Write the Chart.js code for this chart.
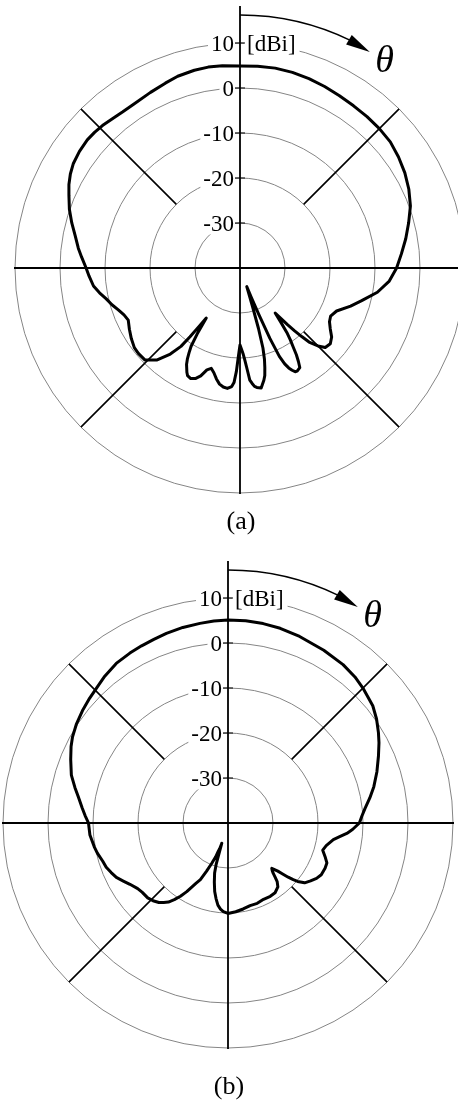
<!DOCTYPE html>
<html>
<head>
<meta charset="utf-8">
<script src="https://cdn.jsdelivr.net/npm/chart.js@4.4.0/dist/chart.umd.min.js"></script>
<style>
  html, body { margin: 0; padding: 0; background: #fff; overflow: hidden; }
  body { width: 458px; height: 1113px; position: relative; }
  canvas { position: absolute; left: 0; }
  #grafA { top: 0; }
  #grafB { top: 555px; }
  .legenda {
    position: absolute;
    font-family: "Liberation Serif", "Times New Roman", serif;
    font-size: 26px;
    line-height: 1;
    transform: translateX(-50%);
  }
</style>
</head>
<body>
<canvas id="grafA" width="480" height="555"></canvas>
<canvas id="grafB" width="480" height="555"></canvas>
<div class="legenda" style="left:241px; top:508px">(a)</div>
<div class="legenda" style="left:229px; top:1073px">(b)</div>
<script>
// diagrama (a): ângulo θ (graus, sentido horário a partir do topo) e ganho em dBi
const anguloA = [0, 5, 10, 15, 20, 25, 30, 35, 40, 45,
  50, 55, 60, 65, 70, 75, 80, 85, 90, 95,
  100, 105, 109, 114, 118, 121, 124, 127, 130, 133,
  135, 137, 138, 139, 140, 141, 142, 143, 144, 145,
  146, 147, 148, 149, 151, 152, 153, 154, 155, 156,
  157, 158, 159, 160, 161, 162, 163, 164, 165, 166,
  167, 168, 170, 172, 173, 174, 175, 176, 177, 178,
  179, 180, 181, 182, 183, 184, 186, 188, 190, 192,
  194, 196, 198, 200, 202, 204, 206, 207, 209, 210,
  211, 212, 213, 214, 215, 216, 217, 219, 222, 226,
  230, 233, 237, 241, 245, 248, 251, 254, 257, 260,
  263, 267, 270, 274, 277, 281, 285, 289, 293, 296,
  299, 302, 306, 310, 313, 316, 320, 323, 327, 333,
  338, 342, 347, 351, 355];
const ganhoA = [4.9, 5.0, 5.1, 5.0, 4.8, 4.5, 4.2, 4.0, 3.9, 3.8,
  3.6, 3.0, 2.3, 1.4, 0.3, -1.2, -2.6, -4.0, -5.2, -6.7,
  -9.0, -12.0, -14.0, -16.5, -17.2, -16.8, -15.8, -14.5, -13.8, -14.1,
  -15.5, -17.5, -19.5, -21.5, -23.5, -25.5, -27.3, -25.0, -22.3, -20.5,
  -18.9, -17.0, -15.5, -14.2, -13.8, -13.9, -14.5, -15.3, -16.5, -18.5,
  -23.0, -29.0, -33.0, -35.6, -34.0, -31.0, -26.0, -21.5, -19.0, -17.2,
  -15.5, -14.5, -12.9, -13.2, -13.5, -14.2, -15.0, -17.5, -19.5, -21.0,
  -22.0, -22.9, -20.5, -17.0, -14.5, -13.6, -13.1, -13.3, -13.8, -14.8,
  -16.0, -16.8, -16.2, -14.5, -13.5, -13.1, -13.4, -14.0, -15.5, -16.6,
  -18.0, -19.5, -22.5, -26.6, -24.3, -21.1, -18.2, -15.4, -12.5, -10.6,
  -10.5, -10.6, -11.2, -11.9, -12.6, -12.2, -11.4, -10.4, -9.5, -8.3,
  -7.2, -6.4, -5.8, -4.7, -3.8, -2.7, -1.3, 0.1, 1.3, 2.3,
  3.1, 3.7, 4.1, 4.3, 4.2, 4.0, 3.6, 3.4, 3.4, 3.8,
  4.3, 4.8, 5.1, 5.2, 5.1];

// diagrama (b)
const anguloB = [0, 5, 10, 15, 21, 29, 36, 41, 45, 51,
  55, 59, 62, 66, 71, 76, 80, 84, 87, 90,
  93, 95, 97, 99, 103, 106, 109, 112, 115, 119,
  122, 125, 128, 130, 131, 132, 133, 134, 136, 137,
  138, 139, 140, 142, 146, 150, 155, 160, 165, 170,
  175, 180, 183, 185, 187, 189, 191, 193, 195, 196,
  197, 198, 199, 200, 202, 204, 206, 208, 211, 213,
  215, 217, 219, 221, 224, 227, 231, 234, 238, 241,
  244, 247, 250, 253, 257, 260, 265, 270, 273, 276,
  280, 283, 287, 292, 296, 299, 303, 308, 312, 316,
  320, 325, 330, 334, 338, 342, 347, 352, 356];
const ganhoB = [5.1, 5.1, 5.0, 4.8, 4.4, 3.9, 3.5, 3.0, 2.4, 1.4,
  0.3, -1.0, -2.0, -3.4, -5.0, -6.6, -8.0, -9.4, -10.2, -10.8,
  -12.3, -13.5, -15.0, -16.3, -17.6, -18.1, -17.2, -16.3, -16.2, -16.3,
  -16.8, -17.6, -18.4, -19.8, -20.8, -22.0, -23.4, -24.6, -26.0, -25.6,
  -25.0, -24.0, -23.0, -22.0, -21.3, -21.2, -21.3, -21.0, -21.0, -20.6,
  -20.2, -19.9, -20.3, -20.8, -21.6, -23.0, -24.5, -26.5, -28.5, -30.5,
  -35.3, -34.0, -33.3, -32.0, -30.3, -28.3, -26.0, -24.8, -22.2, -20.6,
  -19.2, -18.0, -17.3, -16.6, -16.0, -15.6, -15.5, -15.2, -14.3, -13.4,
  -12.4, -11.8, -11.2, -10.9, -10.2, -9.8, -9.2, -9.0, -8.2, -7.4,
  -6.2, -5.1, -3.6, -2.3, -1.2, -0.5, 0.2, 0.9, 1.4, 1.9,
  2.6, 3.3, 3.6, 3.8, 4.0, 4.3, 4.6, 4.8, 5.0];

// escala radial e rótulos
const marcas = [10, 0, -10, -20, -30];
const unidade = "[dBi]";
const simbolo = "θ";

const graus = Array.from({ length: 360 }, (_, i) => i);

function serie(angulos, ganhos) {
  const d = new Array(360).fill(null);
  angulos.forEach((a, i) => { d[a] = ganhos[i]; });
  return d;
}

const fonte = "'Liberation Serif', 'Times New Roman', serif";

// eixos, diagonais, rótulos e a seta do θ
const eixosPolares = {
  id: "eixosPolares",
  beforeDatasetsDraw(chart) {
    const r = chart.scales.r;
    const ctx = chart.ctx;
    const cx = r.xCenter, cy = r.yCenter;
    const dist = v => r.getDistanceFromCenterForValue(v);
    const pt = (ang, d) => r.getPointPosition(ang, d);
    const externo = dist(r.max);

    ctx.save();
    ctx.font = "23px " + fonte;
    ctx.textBaseline = "middle";

    // fundo branco atrás dos rótulos (interrompe os círculos)
    ctx.fillStyle = "#fff";
    marcas.forEach(v => {
      const y = cy - dist(v) + 1.5;
      const w = ctx.measureText(String(v)).width;
      ctx.fillRect(cx - 6 - w - 3, y - 10, w + 4, 20);
    });
    const wu = ctx.measureText(unidade).width;
    ctx.fillRect(cx + 4, cy - dist(10) + 1.5 - 10, wu + 7, 20);

    // eixos principais
    ctx.strokeStyle = "#000";
    ctx.lineWidth = 1.8;
    ctx.beginPath();
    let a = pt(0, externo + 37), b = pt(180, externo + 1);
    ctx.moveTo(a.x, a.y); ctx.lineTo(b.x, b.y);
    a = pt(270, externo + 1); b = pt(90, externo + 1);
    ctx.moveTo(a.x, a.y); ctx.lineTo(b.x, b.y);
    ctx.stroke();

    // diagonais entre -20 e 10 dBi
    ctx.lineWidth = 1.6;
    ctx.beginPath();
    [45, 135, 225, 315].forEach(ang => {
      const p1 = pt(ang, dist(-20)), p2 = pt(ang, externo);
      ctx.moveTo(p1.x, p1.y); ctx.lineTo(p2.x, p2.y);
    });
    ctx.stroke();

    // traços das marcas
    ctx.lineWidth = 1.2;
    ctx.beginPath();
    marcas.forEach(v => {
      const y = cy - dist(v);
      ctx.moveTo(cx - 5, y); ctx.lineTo(cx + 5, y);
    });
    ctx.stroke();

    // textos
    ctx.fillStyle = "#000";
    ctx.textAlign = "right";
    marcas.forEach(v => ctx.fillText(String(v), cx - 6, cy - dist(v) + 1.5));
    ctx.textAlign = "left";
    ctx.fillText(unidade, cx + 7, cy - dist(10) + 1.5);

    // seta curva indicando o sentido de θ
    const ra = externo + 28;
    const rad = g => (g - 90) * Math.PI / 180;
    ctx.lineWidth = 1.5;
    ctx.beginPath();
    ctx.arc(cx, cy, ra, rad(0), rad(26));
    ctx.stroke();
    const ponta = pt(31, ra - 1), base = pt(25.5, ra);
    const dx = ponta.x - base.x, dy = ponta.y - base.y;
    const len = Math.hypot(dx, dy);
    const nx = -dy / len * 5.5, ny = dx / len * 5.5;
    ctx.beginPath();
    ctx.moveTo(ponta.x, ponta.y);
    ctx.lineTo(base.x + nx, base.y + ny);
    ctx.lineTo(base.x - nx, base.y - ny);
    ctx.closePath();
    ctx.fill();

    ctx.font = "italic 38px " + fonte;
    ctx.textAlign = "center";
    const pos = pt(35, ra - 1);
    ctx.fillText(simbolo, pos.x, pos.y);
    ctx.restore();
  }
};

function criar(id, angulos, ganhos, padding) {
  return new Chart(document.getElementById(id), {
    type: "radar",
    data: {
      labels: graus,
      datasets: [{
        data: serie(angulos, ganhos),
        spanGaps: true,
        borderColor: "#000",
        backgroundColor: "rgba(0,0,0,0)",
        borderWidth: 3,
        borderJoinStyle: "round",
        pointRadius: 0,
        fill: false
      }]
    },
    options: {
      responsive: false,
      animation: false,
      layout: { padding: padding },
      plugins: {
        legend: { display: false },
        tooltip: { enabled: false }
      },
      scales: {
        r: {
          min: -40,
          max: 10,
          ticks: { display: false, stepSize: 10 },
          grid: {
            circular: true,
            lineWidth: 1,
            color: c => c.tick && c.tick.value === -40 ? "rgba(0,0,0,0)" : "#858585"
          },
          angleLines: { display: false },
          pointLabels: { display: false }
        }
      }
    },
    plugins: [eixosPolares]
  });
}

criar("grafA", anguloA, ganhoA, { left: 15, right: 15, top: 43, bottom: 62 });
criar("grafB", anguloB, ganhoB, { left: 3, right: 27, top: 43, bottom: 62 });
</script>
</body>
</html>
